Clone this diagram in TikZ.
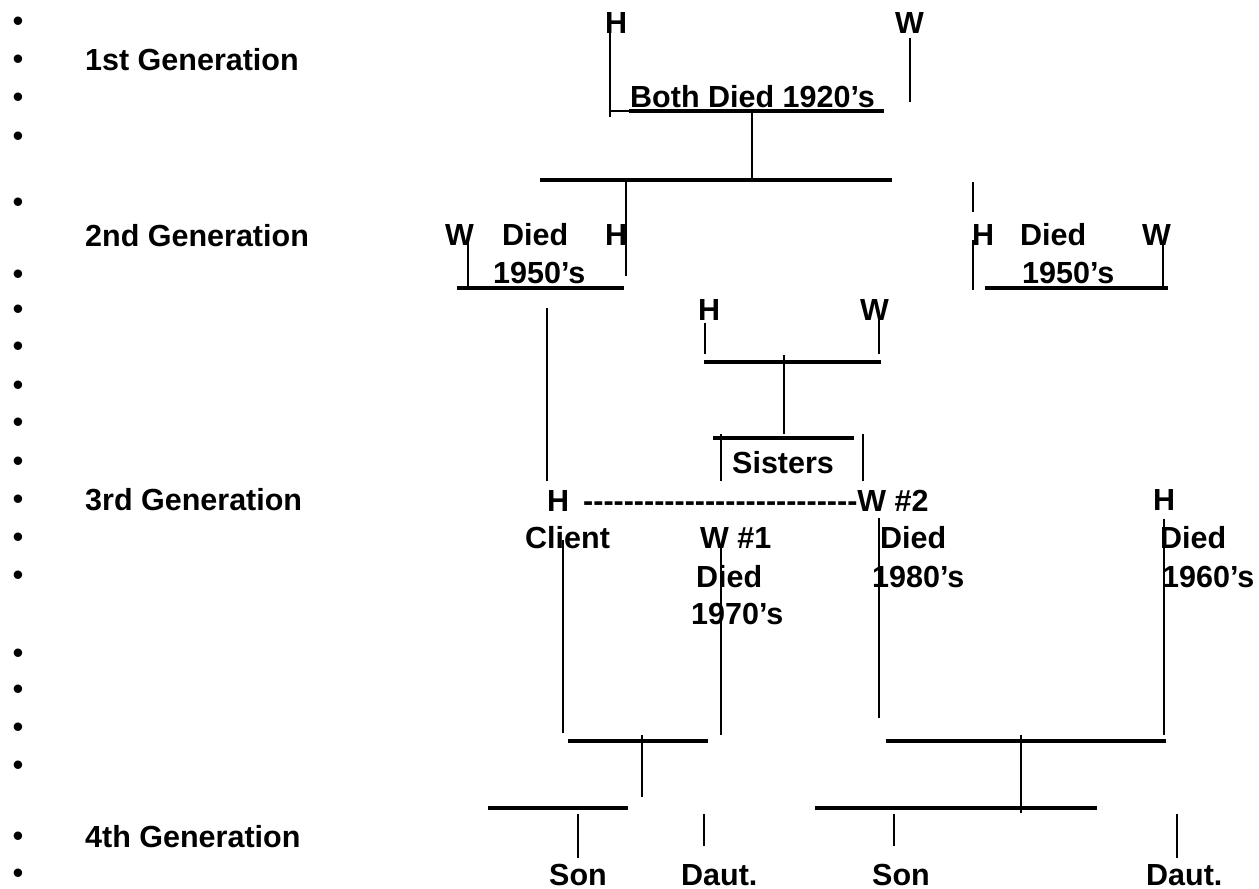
\documentclass[tikz,border=0pt]{standalone}
\usepackage{fontspec}
\setmainfont{Liberation Sans}
\tikzset{
  lbl/.style={anchor=base west, inner sep=0pt, font=\fontsize{30.5}{36}\selectfont\bfseries},
  bul/.style={anchor=base, inner sep=0pt, font=\fontsize{31}{36}\selectfont},
  ln/.style={line width=1.8pt, line cap=butt},
  bar/.style={line width=3.3pt, line cap=butt},
}
\newcommand{\hyph}{-\kern0pt}
\begin{document}
\begin{tikzpicture}[x=1pt,y=-1pt]
\useasboundingbox (0,0) rectangle (1259,889);
% bullets
\foreach \yy [count=\i] in {21,59,97,136,202,274,309,346,385,422,461,499,537,575,653,689,727,765,836,873}
  \node[bul] (bul\i) at (18,\yy+10.8) {•};
% generation labels
\node[lbl] (gen1) at (85,70.5) {1st Generation};
\node[lbl] (gen2) at (85,246) {2nd Generation};
\node[lbl] (gen3) at (85,510) {3rd Generation};
\node[lbl] (gen4) at (85,847) {4th Generation};
% 1st generation
\node[lbl] (gaH) at (605,33) {H};
\node[lbl] (gaW) at (895,33) {W};
\node[lbl] (gaD) at (630,107) {Both Died 1920’s};
% 2nd generation left
\node[lbl] (lW) at (445,245) {W};
\node[lbl] (lD) at (502,245) {Died};
\node[lbl] (lH) at (605,245) {H};
\node[lbl] (lY) at (493,283) {1950’s};
% 2nd generation right
\node[lbl] (rH) at (972,245) {H};
\node[lbl] (rD) at (1020,245) {Died};
\node[lbl] (rW) at (1142,245) {W};
\node[lbl] (rY) at (1022,283) {1950’s};
% 2nd generation middle
\node[lbl] (mH) at (698,320) {H};
\node[lbl] (mW) at (860,320) {W};
\node[lbl] (sis) at (732,473) {Sisters};
% 3rd generation
\node[lbl] (cH) at (547,511) {H};
\node[lbl] (dash) at (583,511) {\hyph\hyph\hyph\hyph\hyph\hyph\hyph\hyph\hyph\hyph\hyph\hyph\hyph\hyph\hyph\hyph\hyph\hyph\hyph\hyph\hyph\hyph\hyph\hyph\hyph\hyph\hyph W \#2};
\node[lbl] (xH) at (1153,510) {H};
\node[lbl] (cl) at (525,548) {Client};
\node[lbl] (w1) at (700,548) {W \#1};
\node[lbl] (w1d) at (696,587) {Died};
\node[lbl] (w1y) at (691,624) {1970’s};
\node[lbl] (w2d) at (880,548) {Died};
\node[lbl] (w2y) at (872,587) {1980’s};
\node[lbl] (xd) at (1160,548) {Died};
\node[lbl] (xy) at (1162,587) {1960’s};
% 4th generation
\node[lbl] (s1) at (549,885) {Son};
\node[lbl] (d1) at (681,885) {Daut.};
\node[lbl] (s2) at (872,885) {Son};
\node[lbl] (d2) at (1146,885) {Daut.};
% thin connectors
\foreach \n/\xa/\ya/\xb/\yb in {
  aH/610/28/610/117, aW/910/38/910/102, aM/752/111/752/180,
  aL/626/180/626/276, aR/973/182/973/212,
  lWl/468/243/468/290, lC/547/308/547/481,
  rHl/973/240/973/290, rWl/1163/245/1163/290,
  mHl/705/323/705/354, mWl/879/320/879/354, mM/784/355/784/434,
  sL/721/434/721/481, sR/863/434/863/481,
  cC/563/540/563/733, cW/721/548/721/735, cX/879/518/879/718, cH/1164/519/1164/735,
  kL/642/735/642/797, kR/1021/735/1021/813,
  k1/578/814/578/858, k2/704/814/704/846, k3/894/814/894/846, k4/1177/814/1177/858}
{
  \coordinate (\n-s) at (\xa,\ya);
  \coordinate (\n-e) at (\xb,\yb);
  \draw[ln] (\n-s) -- (\n-e);
}
% thick bars (underscores)
\foreach \n/\xa/\ya/\xb/\yb in {
  uA/629/111/884/111, bA/540/180/892/180,
  uL/457/288/624/288, uR/985/288/1168/288,
  bM/704/362/881/362, bS/713/438/854/438,
  bL/568/741/708/741, bLk/488/808/628/808,
  bR/886/741/1166/741, bRk/815/808/1097/808}
{
  \coordinate (\n-s) at (\xa,\ya);
  \coordinate (\n-e) at (\xb,\yb);
  \draw[bar] (\n-s) -- (\n-e);
}
\coordinate (uA0) at (610,111);
\draw[ln] (uA0) -- (uA-s);
\end{tikzpicture}
\end{document}
